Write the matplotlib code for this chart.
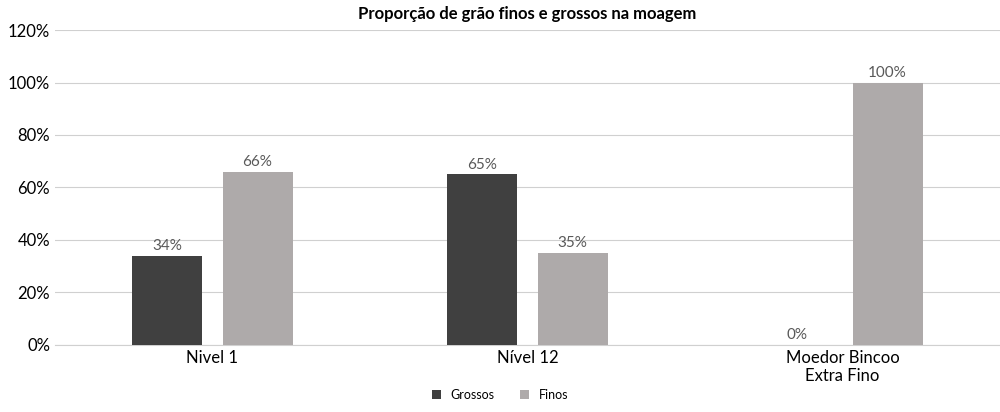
import matplotlib
matplotlib.use("Agg")
import matplotlib.pyplot as plt
import numpy as np

categories = ["Nivel 1", "Nível 12", "Moedor Bincoo\nExtra Fino"]
grossos = [34, 65, 0]
finos = [66, 35, 100]
yticks = [0, 20, 40, 60, 80, 100, 120]

plt.rcParams['font.family'] = ['Lato', 'DejaVu Sans']
fig = plt.figure(figsize=(10, 4.12), dpi=100)
ax = fig.add_axes([0.055, 0.163, 0.945, 0.764])
x = np.arange(len(categories))
w = 0.222
off = 0.143
b1 = ax.bar(x - off, grossos, w, color="#404040", label="Grossos", zorder=3)
b2 = ax.bar(x + off, finos, w, color="#AEAAAA", label="Finos", zorder=3)
for bars, vals in ((b1, grossos), (b2, finos)):
    for r, v in zip(bars, vals):
        ax.text(r.get_x() + r.get_width()/2, v + 1, f"{v}%", ha="center", va="bottom",
                fontsize=11, color="#595959")
ax.set_xlim(-0.5, 2.5)
ax.set_ylim(0, 120)
ax.set_yticks(yticks)
ax.set_yticklabels([f"{t}%" for t in yticks], fontsize=12)
ax.set_xticks(x)
ax.set_xticklabels(categories, fontsize=12)
ax.yaxis.grid(True, color="#D0D0D0", linewidth=0.8, zorder=0)
for s in ["top", "right", "left"]:
    ax.spines[s].set_visible(False)
ax.spines["bottom"].set_color("#D0D0D0")
ax.tick_params(length=0)
ax.set_title("Proporção de grão finos e grossos na moagem", fontsize=12, fontweight="bold", pad=8)
fig.legend(handles=[b1, b2], loc="lower center", bbox_to_anchor=(0.5, 0.0), ncol=2,
           frameon=False, fontsize=9, handlelength=0.7, handleheight=0.7)
fig.savefig("out.png", dpi=100)
